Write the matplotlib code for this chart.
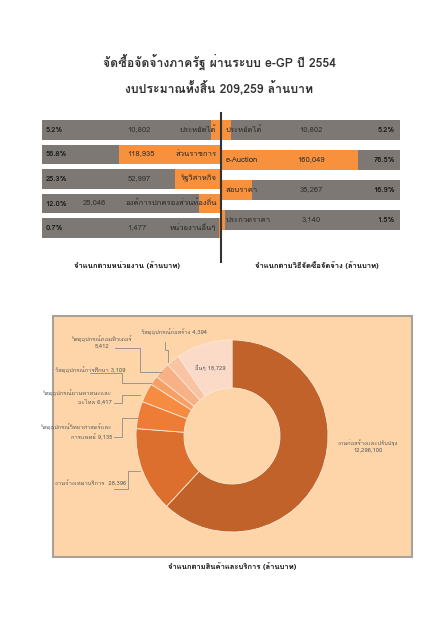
import matplotlib
matplotlib.use('Agg')
import matplotlib.pyplot as plt
from matplotlib import font_manager
from matplotlib.ft2font import FT2Font
from matplotlib.patches import Rectangle

# find a font that has Thai glyphs
thai_font = None
for f in font_manager.fontManager.ttflist:
    try:
        if 0x0E01 in FT2Font(f.fname).get_charmap():
            thai_font = f.name
            break
    except Exception:
        pass
fams = [thai_font, 'DejaVu Sans'] if thai_font else ['DejaVu Sans']
plt.rcParams['font.family'] = fams

# data
title1 = 'จัดซื้อจัดจ้างภาครัฐ ผ่านระบบ e-GP ปี 2554'
title2 = 'งบประมาณทั้งสิ้น 209,259 ล้านบาท'

agency_names = ['ประหยัดได้', 'ส่วนราชการ', 'รัฐวิสาหกิจ', 'องค์การปกครองส่วนท้องถิ่น', 'หน่วยงานอื่นๆ']
agency_values = ['10,802', '118,935', '52,997', '25,046', '1,477']
agency_pct = [5.2, 56.8, 25.3, 12.0, 0.7]

method_names = ['ประหยัดได้', 'e-Auction', 'สอบราคา', 'ประกวดราคา']
method_values = ['10,802', '160,049', '35,267', '3,140']
method_pct = [5.2, 76.5, 16.9, 1.5]

goods_names = ['งานก่อสร้างและปรับปรุง', 'งานจ้างเหมาบริการ', 'วัสดุอุปกรณ์วิทยาศาสตร์และ\nการแพทย์',
               'วัสดุอุปกรณ์ยานพาหนะและ\nอะไหล่', 'วัสดุอุปกรณ์การศึกษา', 'วัสดุอุปกรณ์คอมพิวเตอร์\n',
               'วัสดุอุปกรณ์ก่อสร้าง', 'อื่นๆ']
goods_values = [122961, 28396, 9135, 6417, 3109, 5412, 4394, 18729]
goods_labels = ['12,296,100', '28,396', '9,135', '6,417', '3,109', '5,412', '4,394', '18,729']

W, H = 438, 620
fig = plt.figure(figsize=(W / 100, H / 100), dpi=100)
fig.patch.set_facecolor('white')


def box(x0, y0, x1, y1):
    return [x0 / W, 1 - y1 / H, (x1 - x0) / W, (y1 - y0) / H]


grey = '#7d7873'
orange = '#f7913d'
txt = '#262626'

fig.text(219 / W, 1 - 62 / H, title1, ha='center', va='center', fontsize=8.8, fontweight='bold', color='#333333')
fig.text(219 / W, 1 - 88 / H, title2, ha='center', va='center', fontsize=8.8, fontweight='bold', color='#333333')

# left bars: by agency
axl = fig.add_axes(box(42, 117.75, 220, 240.25))
yl = range(len(agency_pct))
axl.barh(yl, [100] * len(agency_pct), height=0.78, color=grey)
axl.barh(yl, agency_pct, left=[100 - p for p in agency_pct], height=0.78, color=orange)
axl.set_xlim(0, 100)
axl.set_ylim(len(agency_pct) - 0.5, -0.5)
axl.axis('off')
for i in yl:
    axl.text(2, i, f'{agency_pct[i]:.1f}%', ha='left', va='center', fontsize=5.5, fontweight='bold', color='#1a1a1a')
    vx = 23 if i == 3 else 48
    axl.text(vx, i, agency_values[i], ha='left', va='center', fontsize=5.5, color='#333333')
    axl.text(98, i, agency_names[i], ha='right', va='center', fontsize=5.5, color=txt)

# right bars: by procurement method
axr = fig.add_axes(box(222, 115, 400, 235))
yr = range(len(method_pct))
axr.barh(yr, method_pct, height=0.67, color=orange)
axr.barh(yr, [100 - p for p in method_pct], left=method_pct, height=0.67, color=grey)
axr.set_xlim(0, 100)
axr.set_ylim(len(method_pct) - 0.5, -0.5)
axr.axis('off')
for i in yr:
    axr.text(2, i, method_names[i], ha='left', va='center', fontsize=5.5, color=txt)
    axr.text(50, i, method_values[i], ha='center', va='center', fontsize=5.5, color='#333333')
    axr.text(97, i, f'{method_pct[i]:.1f}%', ha='right', va='center', fontsize=5.5, fontweight='bold', color='#1a1a1a')

# divider
fig.add_artist(plt.Line2D([221 / W, 221 / W], [1 - 113 / H, 1 - 262 / H], color='#333333', lw=1.5))

fig.text(127 / W, 1 - 265 / H, 'จำแนกตามหน่วยงาน (ล้านบาท)', ha='center', va='center', fontsize=5.5, fontweight='bold', color='#111111')
fig.text(317 / W, 1 - 265 / H, 'จำแนกตามวิธีจัดซื้อจัดจ้าง (ล้านบาท)', ha='center', va='center', fontsize=5.5, fontweight='bold', color='#111111')

# donut panel background
fig.add_artist(Rectangle((53 / W, 1 - 557 / H), (412 - 53) / W, (557 - 316) / H,
                         transform=fig.transFigure, facecolor='#fdd5a8', edgecolor='#a8a29b', lw=1.5, zorder=-1))

R = 96
cx, cy = 232, 436
axd = fig.add_axes(box(cx - R, cy - R, cx + R, cy + R))
axd.patch.set_alpha(0)
colors = ['#c0622a', '#dc6e2e', '#ec7c36', '#f58c41', '#f7a066', '#f8b186', '#f9c4a4', '#fbdac8']
axd.pie(goods_values, colors=colors, startangle=90, counterclock=False, radius=1,
        wedgeprops=dict(width=0.5, edgecolor='#fde8d6', linewidth=0.6))
axd.set_xlim(-1, 1)
axd.set_ylim(-1, 1)
axd.set_aspect('equal')
axd.axis('off')


def d(px, py):
    return ((px - cx) / R, (cy - py) / R)


lab_col = '#595959'
fs = 4.2
line_kw = dict(color='#8c8c8c', lw=0.6, clip_on=False)

# big slice label
axd.text(*d(368, 446), goods_names[0] + '\n' + goods_labels[0], ha='center', va='center', fontsize=fs, color=lab_col, linespacing=1.4, clip_on=False)
# others label inside
axd.text(*d(210, 368), goods_names[7] + ' ' + goods_labels[7], ha='center', va='center', fontsize=fs, color=lab_col)

# labels with leader lines
axd.text(*d(126, 483), goods_names[1] + '  ' + goods_labels[1], ha='right', va='center', fontsize=fs, color=lab_col, clip_on=False)
pts = [d(114, 489), d(128, 489), d(128, 471), d(140, 471)]
axd.plot([p[0] for p in pts], [p[1] for p in pts], **line_kw)

axd.text(*d(112, 432), goods_names[2] + ' ' + goods_labels[2], ha='right', va='center', fontsize=fs, color=lab_col, linespacing=1.4, clip_on=False)
pts = [d(114, 437), d(122, 437), d(122, 418), d(137, 418)]
axd.plot([p[0] for p in pts], [p[1] for p in pts], **line_kw)

axd.text(*d(112, 398), goods_names[3] + ' ' + goods_labels[3], ha='right', va='center', fontsize=fs, color=lab_col, linespacing=1.4, clip_on=False)
pts = [d(114, 403), d(122, 403), d(122, 395), d(140, 395)]
axd.plot([p[0] for p in pts], [p[1] for p in pts], **line_kw)

axd.text(*d(55, 370), goods_names[4] + ' ' + goods_labels[4], ha='left', va='center', fontsize=fs, color=lab_col, clip_on=False)
pts = [d(90, 373), d(122, 373), d(122, 383), d(151, 383)]
axd.plot([p[0] for p in pts], [p[1] for p in pts], **line_kw)

axd.text(*d(102, 342), goods_names[5] + goods_labels[5], ha='center', va='center', fontsize=fs, color=lab_col, linespacing=1.4, clip_on=False)
pts = [d(115, 348), d(140, 348), d(140, 372), d(161, 372)]
axd.plot([p[0] for p in pts], [p[1] for p in pts], **line_kw)

axd.text(*d(174, 332), goods_names[6] + ' ' + goods_labels[6], ha='center', va='center', fontsize=fs, color=lab_col, clip_on=False)
pts = [d(165, 342), d(165, 350), d(168, 350), d(168, 362)]
axd.plot([p[0] for p in pts], [p[1] for p in pts], **line_kw)

fig.text(232 / W, 1 - 566 / H, 'จำแนกตามสินค้าและบริการ (ล้านบาท)', ha='center', va='center', fontsize=5.5, fontweight='bold', color='#111111')

fig.savefig('out.png', dpi=100, facecolor='white')
